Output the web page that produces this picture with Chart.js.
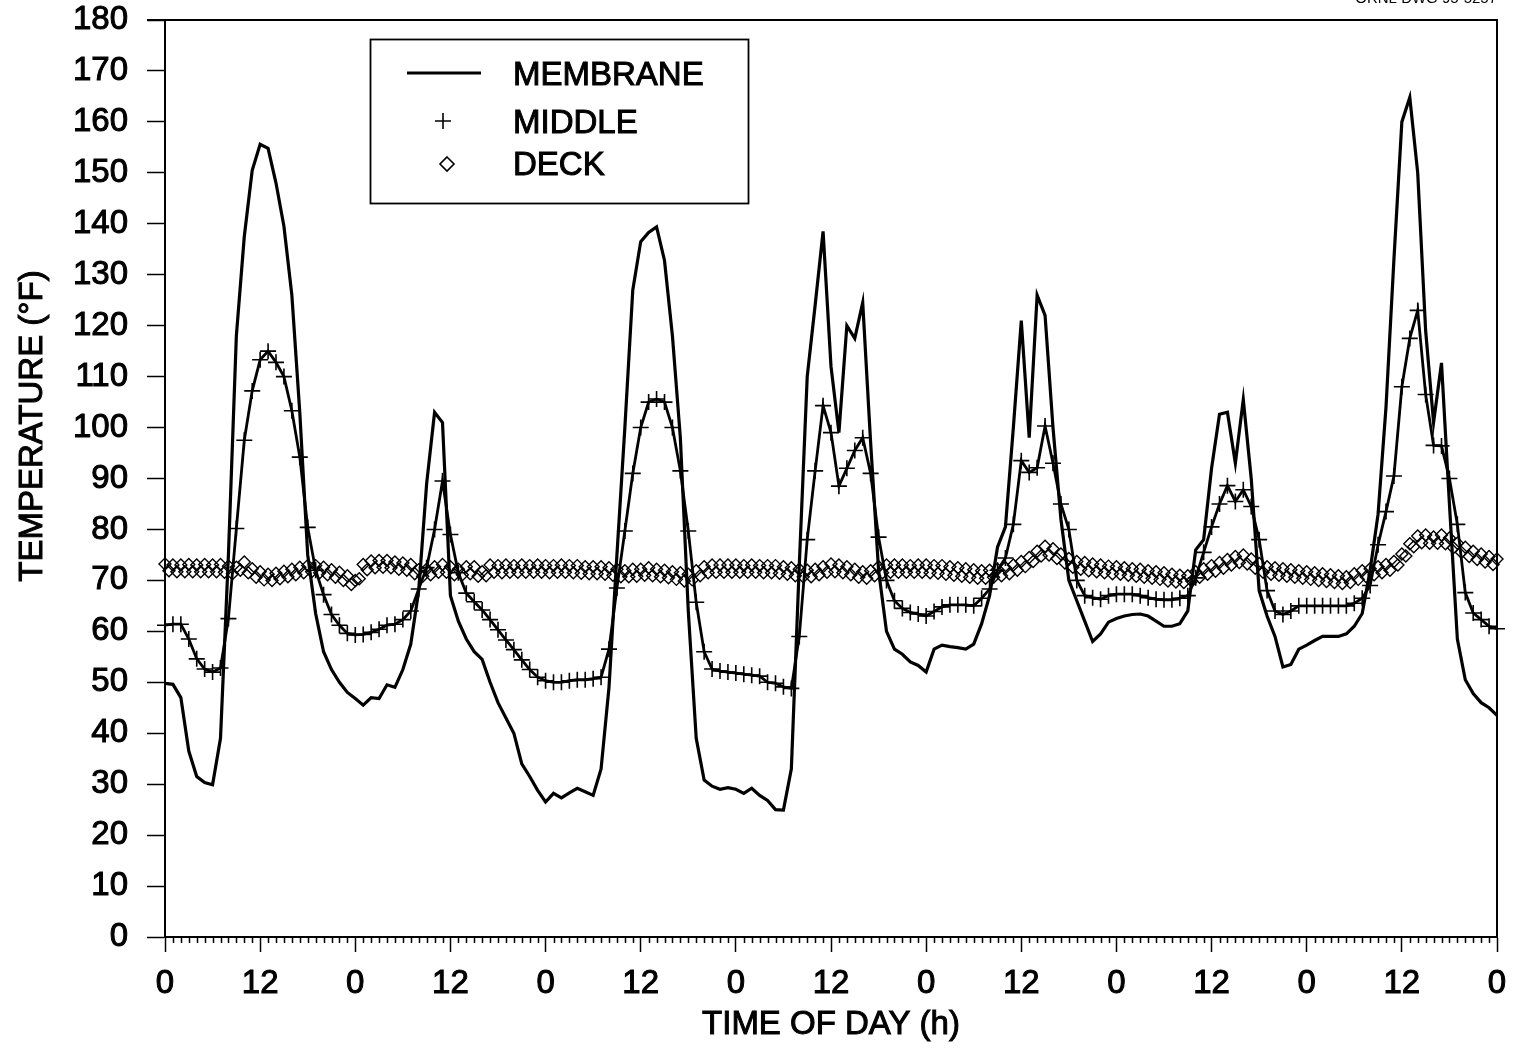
<!DOCTYPE html>
<html>
<head>
<meta charset="utf-8">
<title>Roof temperatures</title>
<script src="https://cdn.jsdelivr.net/npm/chart.js@4.4.1/dist/chart.umd.min.js"></script>
<style>
  html, body { margin: 0; padding: 0; background: #fff; }
  #wrap { width: 1514px; height: 1055px; }
</style>
</head>
<body>
<div id="wrap"><canvas id="chart" width="1514" height="1055"></canvas></div>
<script>
// hourly readings over one week (0 .. 168 h)
const hours = Array.from({ length: 169 }, (_, i) => i);
const tickLabels = ['0', '12'];

const membrane = [
  49.8, 49.6, 47, 36.5, 31.5, 30.3, 29.9, 39, 75, 118, 137.5, 150.5, 155.6, 154.8, 148, 139.5, 126, 103, 75, 63.5,
  56, 52.5, 50, 48, 46.8, 45.5, 47, 46.8, 49.5, 49, 52.5, 57.5, 68, 89, 103, 101, 67, 62, 58.5, 56,
  54.5, 50, 46, 43, 40, 34, 31.5, 28.8, 26.5, 28.2, 27.3, 28.3, 29.2, 28.5, 27.8, 33, 49, 75, 100, 127,
  136.5, 138.3, 139.4, 132.8, 118, 98, 64, 39, 30.8, 29.6, 29, 29.3, 29, 28.2, 29.2, 27.8, 26.8, 25, 24.9, 33,
  73, 110, 124, 138.5, 112, 99, 120, 117.5, 124.5, 97, 72, 60, 56.5, 55.5, 54, 53.3, 52, 56.5, 57.3, 57,
  56.8, 56.5, 57.5, 61.5, 67, 76.5, 80.5, 100, 121, 98, 126, 122, 100, 82, 70, 66, 62, 58, 59.5, 61.8,
  62.5, 63, 63.3, 63.4, 63, 62, 61, 61, 61.5, 64, 76, 78, 92, 102.6, 103, 93, 105.5, 90, 68, 63,
  59, 53, 53.5, 56.5, 57.3, 58.2, 59, 59, 59, 59.5, 61, 63.5, 72, 83, 104, 133, 160, 164.8, 150, 119,
  101, 112.7, 85, 58.5, 50.5, 47.8, 46, 45, 43.5
];

const middle = [
  61.2, 61.4, 61.4, 58.5, 54.6, 52.6, 52, 52.8, 62.5, 80.2, 97.5, 107.2, 113.3, 115, 112.8, 110, 103.3, 94.2, 80.4, 72,
  67.2, 63.3, 61.2, 59.6, 59.3, 59.4, 59.8, 60.4, 61.2, 61.4, 62.3, 64, 68.3, 72.5, 80, 89.5, 79, 71.5, 67.5, 65.8,
  64.2, 62.3, 60.3, 58.3, 56.4, 54.4, 52.5, 51, 50.3, 50, 50, 50.3, 50.5, 50.5, 50.7, 51, 56.5, 68.5, 79.7, 91,
  100, 105, 105.6, 105, 100, 91.5, 79.7, 65.7, 56, 52.6, 52.2, 52, 51.8, 51.6, 51.4, 51.2, 50, 49.8, 49.1, 48.8,
  59, 78, 91.5, 104.3, 99, 88.5, 92, 95.5, 98, 91, 78.5, 70, 66, 64.5, 63.7, 63.4, 63, 63.9, 64.8, 65.2,
  65.2, 65.2, 65, 66.5, 68.3, 72, 74.4, 81, 93.5, 91.2, 92.1, 100.3, 93, 85, 80, 70, 67, 66.6, 66.3, 67,
  67.3, 67.3, 67.3, 67, 66.6, 66.3, 66.2, 66.2, 66.5, 67, 70.5, 75.5, 80.5, 85, 88.6, 85.5, 87.8, 84.5, 78, 68,
  64, 63.3, 64, 65, 65, 65, 65, 65, 65, 65, 65.5, 66.5, 69, 77, 83.5, 90.5, 108, 117.5, 123, 106.5,
  96.5, 96.4, 90, 81, 67.6, 63.6, 62.3, 61, 60.5
];

// deck is logged every half hour: on-the-hour readings and the readings at h + 0.5
const deck = [
  73.2, 73.0, 73.0, 73.1, 73.0, 73.1, 73.0, 73.1, 72.8, 72.6,
  73.6, 72.3, 71.7, 71.2, 71.4, 71.8, 72.2, 72.6, 72.9, 72.9,
  72.6, 72.1, 71.6, 70.9, 70.0, 73.1, 73.8, 73.9, 73.9, 73.6,
  73.4, 73.1, 72.1, 72.2, 72.7, 73.1, 72.7, 72.2, 72.7, 72.7,
  71.7, 73.0, 72.9, 73.0, 72.9, 73.0, 72.9, 73.0, 72.9, 72.9,
  73.0, 72.9, 72.9, 72.7, 72.7, 72.7, 72.5, 72.2, 71.9, 72.2,
  72.2, 72.5, 72.2, 72.0, 71.7, 71.5, 71.2, 71.9, 72.7, 73.0,
  73.0, 73.0, 73.0, 72.9, 73.0, 72.9, 72.9, 72.9, 72.7, 72.5,
  72.2, 72.0, 72.2, 72.7, 73.2, 73.0, 72.7, 72.2, 71.7, 71.9,
  72.7, 73.0, 73.0, 73.0, 72.9, 73.0, 73.0, 72.9, 72.9, 72.7,
  72.5, 72.3, 72.1, 71.9, 72.0, 72.2, 72.5, 73.0, 73.7, 74.5,
  75.7, 76.7, 76.2, 75.2, 74.3, 73.7, 73.5, 73.2, 73.0, 72.8,
  72.7, 72.5, 72.3, 72.2, 71.9, 71.7, 71.5, 71.2, 71.0, 70.9,
  71.7, 72.3, 72.9, 73.5, 74.1, 74.7, 75.0, 74.2, 73.3, 72.7,
  72.5, 72.3, 72.1, 71.9, 71.7, 71.5, 71.3, 71.1, 70.9, 70.7,
  71.3, 71.9, 72.3, 72.7, 73.1, 73.7, 75.2, 77.2, 78.7, 78.9,
  78.5, 78.9, 78.3, 77.3, 76.5, 75.7, 75.2, 74.7, 74.2
];

const deckHalf = [
  71.9, 71.7, 71.7, 71.7, 71.7, 71.7, 71.7, 71.6, 71.3, 72.0,
  71.5, 70.6, 70.1, 70.0, 70.3, 70.7, 71.1, 71.5, 71.7, 71.5,
  71.1, 70.6, 70.0, 69.2, 70.3, 72.1, 72.5, 72.6, 72.5, 72.2,
  72.0, 71.3, 70.8, 71.1, 71.6, 71.6, 71.1, 71.1, 71.3, 70.8,
  70.9, 71.6, 71.5, 71.6, 71.6, 71.6, 71.6, 71.6, 71.5, 71.6,
  71.6, 71.5, 71.4, 71.3, 71.3, 71.2, 71.0, 70.7, 70.7, 70.8,
  71.0, 70.9, 70.7, 70.5, 70.2, 69.9, 70.1, 70.9, 71.5, 71.6,
  71.6, 71.6, 71.6, 71.6, 71.6, 71.5, 71.5, 71.4, 71.2, 70.9,
  70.7, 70.7, 71.1, 71.6, 71.7, 71.5, 71.1, 70.6, 70.4, 70.9,
  71.5, 71.6, 71.6, 71.6, 71.6, 71.6, 71.5, 71.4, 71.2, 71.0,
  70.8, 70.6, 70.4, 70.4, 70.6, 70.9, 71.3, 72.0, 72.7, 73.7,
  74.8, 75.0, 74.3, 73.4, 72.6, 72.2, 71.9, 71.7, 71.5, 71.3,
  71.2, 71.0, 70.8, 70.6, 70.4, 70.2, 69.9, 69.7, 69.6, 69.9,
  70.6, 71.2, 71.8, 72.4, 73.0, 73.5, 73.2, 72.4, 71.6, 71.2,
  71.0, 70.8, 70.6, 70.4, 70.2, 70.0, 69.8, 69.6, 69.4, 69.6,
  70.2, 70.7, 71.1, 71.5, 72.0, 73.0, 74.8, 76.6, 77.4, 77.3,
  77.3, 77.2, 76.4, 75.5, 74.7, 74.1, 73.6, 73.1
];

const FONT = '"Liberation Sans", Arial, Helvetica, sans-serif';
const toPoints = vals => hours.map((h, i) => ({ x: h, y: vals[i] }));
const deckPoints = hours.flatMap((h, i) =>
  i < deckHalf.length ? [{ x: h, y: deck[i] }, { x: h + 0.5, y: deckHalf[i] }] : [{ x: h, y: deck[i] }]);

// frame, minor hour ticks, axis titles, legend box and drawing number
const decorations = {
  id: 'decorations',
  afterDraw(chart) {
    const { ctx, chartArea: a, scales: { x } } = chart;
    ctx.save();
    ctx.strokeStyle = '#000';

    ctx.lineWidth = 1.5;
    ctx.beginPath();
    for (const h of hours) {
      if (h % 12 === 0) continue;
      const px = Math.round(x.getPixelForValue(h)) + 0.5;
      ctx.moveTo(px, a.bottom);
      ctx.lineTo(px, a.bottom + 6);
    }
    ctx.stroke();

    ctx.lineWidth = 2;
    ctx.beginPath();
    ctx.moveTo(a.left - 18, a.top);
    ctx.lineTo(a.right, a.top);
    ctx.lineTo(a.right, a.bottom);
    ctx.stroke();

    const text = (s, tx, ty) => {
      ctx.fillText(s, tx, ty);
      ctx.lineWidth = 1;
      ctx.strokeText(s, tx, ty);
    };

    ctx.fillStyle = '#000';
    ctx.font = '33px ' + FONT;
    ctx.textAlign = 'center';
    ctx.textBaseline = 'middle';
    text('TIME OF DAY (h)', (a.left + a.right) / 2, 1025);
    ctx.save();
    ctx.translate(33, 426);
    ctx.rotate(-Math.PI / 2);
    text('TEMPERATURE (\u00B0F)', 0, 0);
    ctx.restore();

    // legend
    ctx.lineWidth = 1.8;
    ctx.strokeRect(370.5, 39.5, 378, 164);
    ctx.lineWidth = 2.8;
    ctx.beginPath();
    ctx.moveTo(407, 73);
    ctx.lineTo(481, 73);
    ctx.stroke();
    ctx.lineWidth = 1.6;
    ctx.beginPath();
    ctx.moveTo(435, 121); ctx.lineTo(451, 121);
    ctx.moveTo(443, 113); ctx.lineTo(443, 129);
    ctx.stroke();
    ctx.beginPath();
    ctx.moveTo(447, 157); ctx.lineTo(454, 164); ctx.lineTo(447, 171); ctx.lineTo(440, 164);
    ctx.closePath();
    ctx.stroke();
    ctx.textAlign = 'left';
    ctx.textBaseline = 'alphabetic';
    text('MEMBRANE', 513, 85);
    text('MIDDLE', 513, 133);
    text('DECK', 513, 175);

    ctx.font = '15px ' + FONT;
    ctx.textAlign = 'right';
    ctx.fillText('ORNL DWG 95-5257', 1497, 3);
    ctx.restore();
  }
};

const tickFont = { family: FONT, size: 33 };

new Chart(document.getElementById('chart'), {
  type: 'line',
  data: {
    datasets: [
      {
        label: 'MEMBRANE',
        data: toPoints(membrane),
        borderColor: '#000',
        borderWidth: 3.2,
        pointRadius: 0,
        tension: 0
      },
      {
        label: 'MIDDLE',
        data: toPoints(middle),
        borderColor: '#000',
        borderWidth: 2.8,
        pointStyle: 'cross',
        pointRadius: 8,
        pointBorderWidth: 1.6,
        pointBorderColor: '#000',
        tension: 0,
        clip: false
      },
      {
        label: 'DECK',
        data: deckPoints,
        showLine: false,
        pointStyle: 'rectRot',
        pointRadius: 6,
        pointBorderWidth: 1.4,
        pointBorderColor: '#000',
        pointBackgroundColor: 'rgba(0,0,0,0)',
        clip: false
      }
    ]
  },
  options: {
    responsive: false,
    animation: false,
    devicePixelRatio: 1,
    layout: { padding: { top: 20, right: 17, left: 0, bottom: 0 } },
    plugins: { legend: { display: false }, tooltip: { enabled: false } },
    scales: {
      x: {
        type: 'linear',
        min: 0,
        max: 168,
        afterFit: s => { s.height = 118; s.paddingLeft = 0; s.paddingRight = 0; },
        ticks: {
          stepSize: 12,
          autoSkip: false,
          maxRotation: 0,
          padding: 12,
          color: '#000',
          textStrokeColor: '#000',
          textStrokeWidth: 1,
          font: tickFont,
          callback: v => tickLabels[(v / 12) % 2]
        },
        grid: { drawOnChartArea: false, tickLength: 15, tickColor: '#000', tickWidth: 1.5 },
        border: { color: '#000', width: 2 }
      },
      y: {
        min: 0,
        max: 180,
        afterFit: s => { s.width = 165; s.paddingTop = 0; s.paddingBottom = 0; },
        ticks: {
          stepSize: 10,
          padding: 19,
          color: '#000',
          textStrokeColor: '#000',
          textStrokeWidth: 1,
          font: tickFont
        },
        grid: { drawOnChartArea: false, tickLength: 18, tickColor: '#000', tickWidth: 1.5 },
        border: { color: '#000', width: 2 }
      }
    }
  },
  plugins: [decorations]
});
</script>
</body>
</html>
